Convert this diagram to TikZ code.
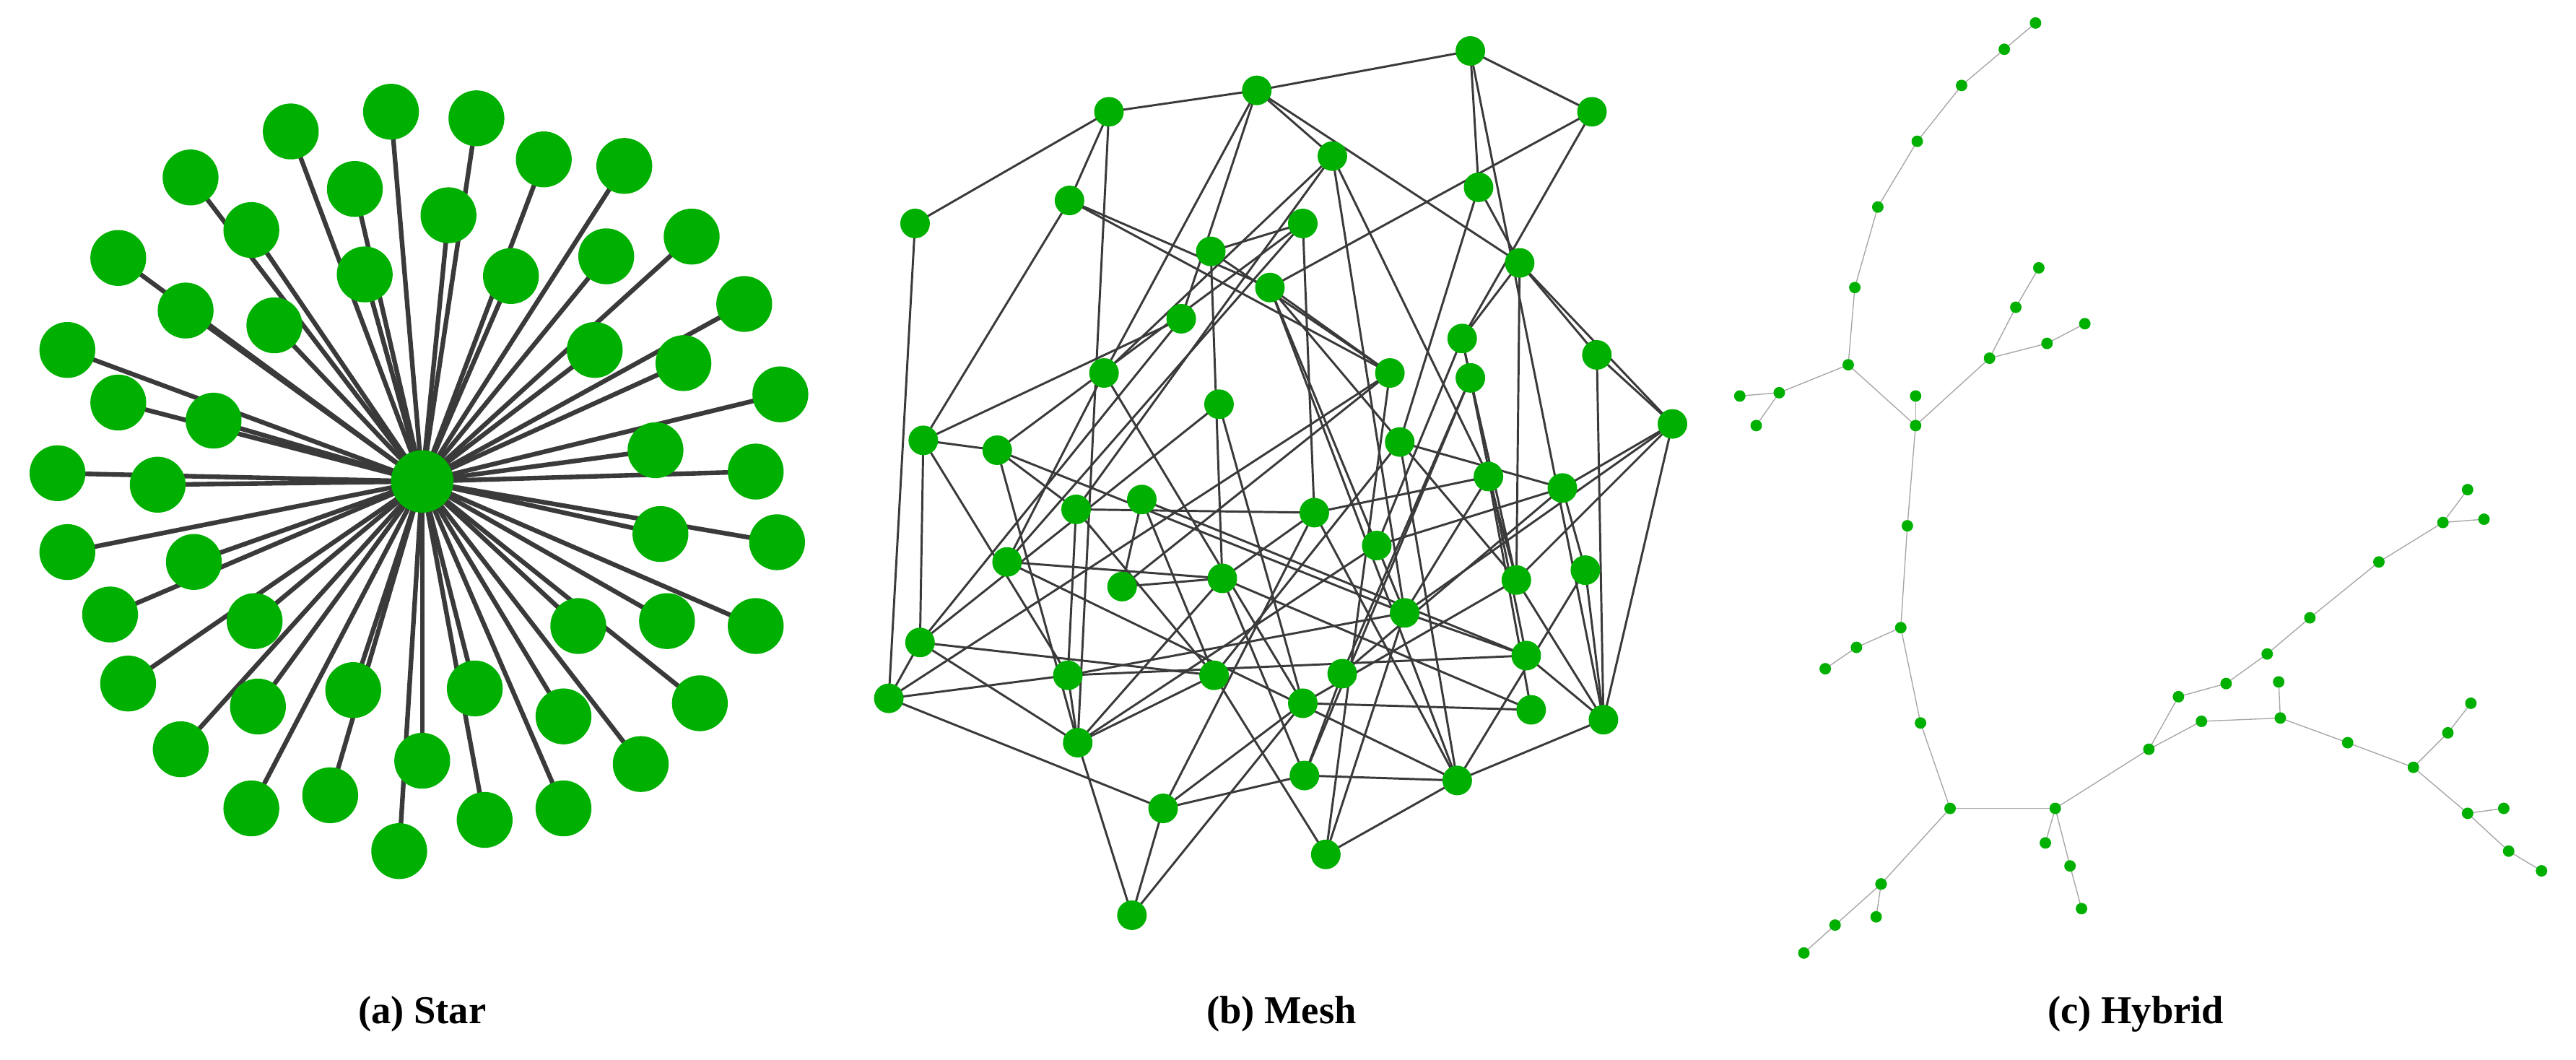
\documentclass[tikz,border=0pt]{standalone}
\usepackage{fontspec}
\setmainfont{Liberation Serif}
\definecolor{ng}{RGB}{0,176,0}
\definecolor{eg}{RGB}{58,58,58}
\begin{document}
\begin{tikzpicture}[x=1pt,y=-1pt,
  sn/.style={circle,fill=ng,inner sep=0pt,minimum size=34pt},
  mn/.style={circle,fill=ng,inner sep=0pt,minimum size=18pt},
  hn/.style={circle,fill=ng,inner sep=0pt,minimum size=7pt},
  se/.style={draw=eg,line width=2.8pt},
  me/.style={draw=eg,line width=1.3pt},
  he/.style={draw=gray!70,line width=0.6pt},
  lab/.style={font=\bfseries\fontsize{24}{28}\selectfont}]
\useasboundingbox (0,0) rectangle (1568,645);
% Star
\foreach \x/\y [count=\i] in {238/68,290/72,177/80,331/97,380/101,116/108,216/115,273/131,153/140,421/144,369/156,72/157,222/167,311/168,113/189,453/185,167/198,41/213,362/213,416/221,72/245,130/256,475/240,399/274,35/288,96/295,460/287,402/325,473/330,41/336,118/342,67/374,352/381,406/378,460/381,155/378,78/416,215/420,289/419,157/430,343/436,426/428,110/456,257/463,390/465,201/484,153/492,295/499,343/492,243/518}
  \coordinate (s\i) at (\x,\y);
\coordinate (sc) at (257,293);
\foreach \i in {1,...,50} \draw[se] (sc) -- (s\i);
\foreach \i in {1,...,50} \node[sn] (sn\i) at (s\i) {};
\node[sn,minimum size=38pt] (scn) at (sc) {};
% Mesh
\foreach \x/\y [count=\i] in {895/31,765/55,675/68,969/68,557/136,651/122,811/95,900/114,793/136,737/153,925/160,773/175,719/194,890/206,972/216,672/227,846/227,895/230,1018/258,562/268,607/274,742/246,852/269,906/290,951/297,655/310,695/304,800/312,838/332,613/342,683/357,744/352,923/353,965/347,855/373,560/391,541/425,650/411,739/411,817/410,929/399,793/428,932/432,976/438,656/452,794/472,887/475,708/492,807/520,689/557}
  \coordinate (m\i) at (\x,\y);
\foreach \a/\b in {3/2,2/1,1/4,3/5,5/37,3/6,3/45,1/8,1/44,4/12,4/14,2/7,2/16,2/13,2/11,6/20,6/17,6/12,7/16,7/26,7/35,7/24,8/11,8/23,9/10,9/30,9/28,9/21,10/32,10/17,11/15,11/19,11/14,11/33,12/17,12/33,12/35,12/47,13/36,13/20,14/18,14/41,14/29,15/19,15/44,16/30,16/42,17/37,17/31,17/49,18/33,18/46,18/40,19/33,19/25,19/44,19/35,20/36,20/21,20/38,21/26,21/45,21/35,22/36,22/42,23/25,23/47,23/39,24/35,24/33,24/43,24/28,25/34,25/40,26/28,26/38,26/39,27/31,27/39,27/41,28/48,28/32,28/47,29/25,29/45,30/32,30/47,31/32,32/45,32/46,32/43,33/42,33/44,34/47,34/44,35/41,35/49,35/38,36/37,36/45,36/39,37/38,37/48,38/41,38/45,39/49,39/45,40/46,41/44,42/48,42/43,44/47,45/50,46/47,46/48,47/49,48/50,50/42}
  \draw[me] (m\a) -- (m\b);
\foreach \i in {1,...,50} \node[mn] (mn\i) at (m\i) {};
% Hybrid
\foreach \x/\y [count=\i] in {1239/14,1220/30,1194/52,1167/86,1143/126,1129/175,1125/222,1166/259,1083/239,1059/241,1069/259,1166/241,1211/218,1227/187,1241/163,1246/209,1269/197,1161/320,1157/382,1130/394,1111/407,1169/440,1187/492,1251/492,1145/538,1142/558,1117/563,1098/580,1145/538,1245/513,1260/527,1267/553,1308/456,1340/439,1388/437,1387/415,1429/452,1469/467,1490/446,1504/428,1502/495,1524/492,1527/518,1547/530,1326/424,1355/416,1380/398,1406/376,1448/342,1487/318,1502/298,1512/316}
  \coordinate (h\i) at (\x,\y);
\foreach \a/\b in {1/2,2/3,3/4,4/5,5/6,6/7,7/8,7/9,9/10,9/11,8/12,8/13,13/14,14/15,13/16,16/17,8/18,18/19,19/20,20/21,19/22,22/23,23/24,23/25,25/26,25/27,27/28,24/30,24/31,31/32,24/33,33/34,34/35,35/36,35/37,37/38,38/39,39/40,38/41,41/42,41/43,43/44,33/45,45/46,46/47,47/48,48/49,49/50,50/51,50/52}
  \draw[he] (h\a) -- (h\b);
\foreach \i in {1,...,52} \node[hn] (hn\i) at (h\i) {};
% Labels
\node[lab] (la) at (257,617) {(a) Star};
\node[lab] (lb) at (780,617) {(b) Mesh};
\node[lab] (lc) at (1300,617) {(c) Hybrid};
\end{tikzpicture}
\end{document}
